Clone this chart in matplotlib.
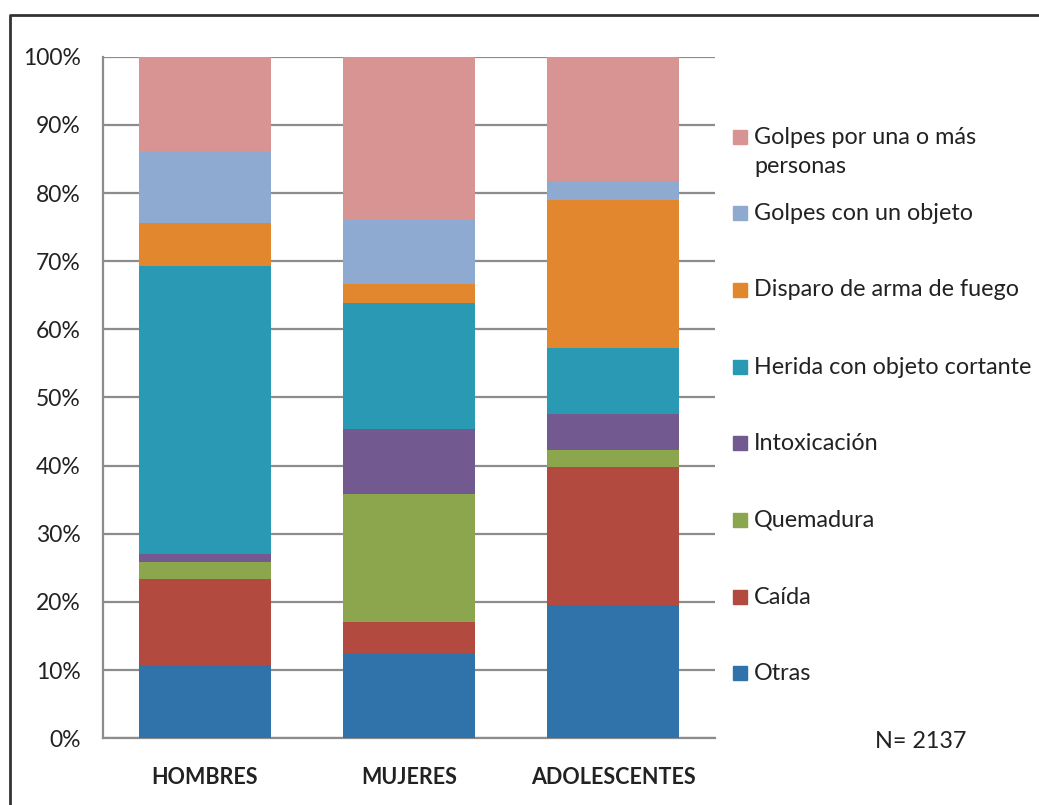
import numpy as np
import matplotlib
matplotlib.use("Agg")
import matplotlib.pyplot as plt
from matplotlib.patches import Rectangle
from matplotlib.lines import Line2D

plt.rcParams['font.family'] = ['Lato', 'DejaVu Sans']

# categorias
grupos = ["HOMBRES", "MUJERES", "ADOLESCENTES"]

# series (de abajo hacia arriba), en %
otras = [10.8, 12.3, 19.5]
caida = [12.6, 4.8, 20.35]
quemadura = [2.4, 18.8, 2.45]
intoxicacion = [1.2, 9.5, 5.3]
herida = [42.3, 18.4, 9.6]
disparo = [6.3, 2.85, 21.8]
golpes_objeto = [10.6, 9.45, 2.7]
golpes_personas = [13.8, 23.9, 18.3]

nombres = ["Otras", "Caída", "Quemadura", "Intoxicación",
           "Herida con objeto cortante", "Disparo de arma de fuego",
           "Golpes con un objeto", "Golpes por una o más\npersonas"]
colores = ["#2F73AA", "#B24A40", "#8BA64C", "#725A90",
           "#2A9AB4", "#E3872F", "#8FAAD1", "#D79492"]
series = [otras, caida, quemadura, intoxicacion, herida, disparo,
          golpes_objeto, golpes_personas]

W, H = 1039, 805
fig = plt.figure(figsize=(W / 100, H / 100), dpi=100)
ax = fig.add_axes([103 / W, 1 - 738.3 / H, 612 / W, 681.6 / H])

x = np.arange(len(grupos))
base = np.zeros(len(grupos))
for vals, col in zip(series, colores):
    vals = np.array(vals)
    ax.bar(x, vals, 0.647, bottom=base, color=col, zorder=3)
    base += vals

ax.set_xlim(-0.5, 2.5)
ax.set_ylim(0, 100)
ax.set_yticks(np.arange(0, 101, 10))
ax.set_yticklabels([f"{v}%" for v in range(0, 101, 10)], fontsize=16.5, color="#222222")
ax.set_xticks(x)
ax.set_xticklabels(grupos, fontsize=15.5, fontweight="bold", color="#222222")
ax.tick_params(axis="y", length=0, pad=16)
ax.tick_params(axis="x", length=0, pad=21)
ax.grid(axis="y", color="#8C8C8C", linewidth=1.6, zorder=0)
for s in ["top", "right"]:
    ax.spines[s].set_visible(False)
ax.spines["left"].set_color("#8C8C8C")
ax.spines["bottom"].set_color("#8C8C8C")
ax.spines["left"].set_linewidth(1.6)
ax.spines["bottom"].set_linewidth(1.6)

# leyenda dibujada a mano (orden inverso)
ys = [137, 213, 290, 367, 443, 520, 597, 673]
for yy, nom, col in zip(ys, nombres[::-1], colores[::-1]):
    fig.add_artist(Rectangle((733 / W, 1 - (yy + 7) / H), 14 / W, 14 / H,
                             transform=fig.transFigure, color=col))
    ty = yy + 15 if "\n" in nom else yy
    fig.text(754 / W, 1 - ty / H, nom, fontsize=16.8, color="#222222",
             va="center", linespacing=1.5)

fig.text(875 / W, 1 - 741 / H, "N= 2137", fontsize=16.8, color="#222222", va="center")

# marco
fig.add_artist(Line2D([10 / W, 10 / W, 1], [0, 1 - 15 / H, 1 - 15 / H],
                      transform=fig.transFigure, color="#333333", linewidth=2))

fig.savefig("out.png", dpi=100)
